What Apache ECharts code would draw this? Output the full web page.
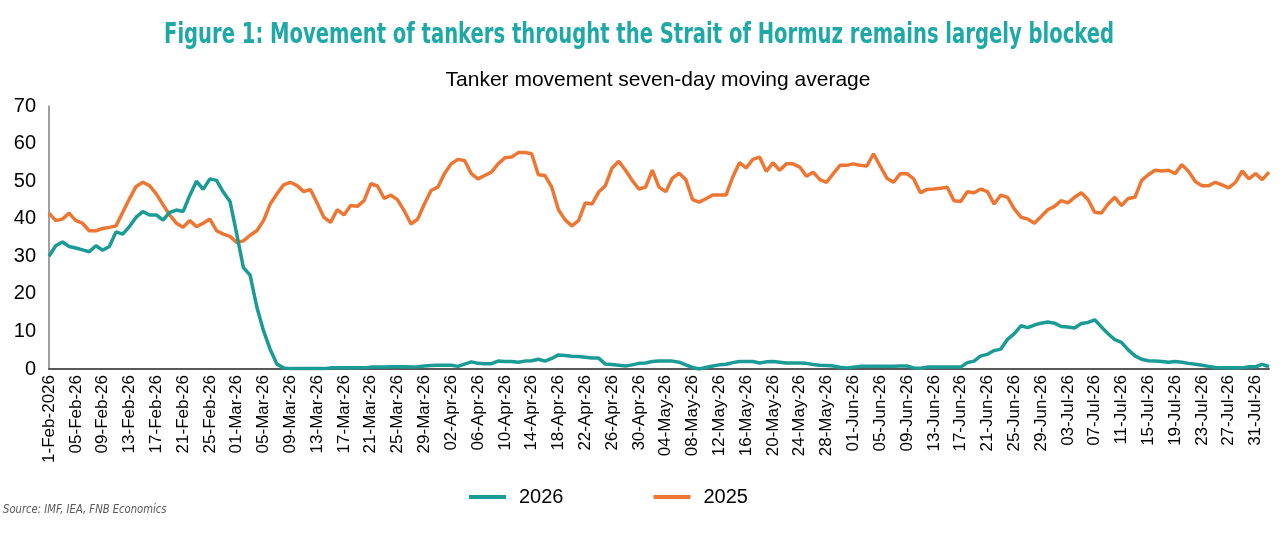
<!DOCTYPE html>
<html>
<head>
<meta charset="utf-8">
<script src="https://cdn.jsdelivr.net/npm/echarts@6/dist/echarts.min.js"></script>
<style>
html,body{margin:0;padding:0;background:#fff;}
#chart{width:1281px;height:544px;}
</style>
</head>
<body>
<div id="chart"></div>
<script>
var categories = [
"1-Feb-2026","02-Feb-26","03-Feb-26","04-Feb-26","05-Feb-26","06-Feb-26","07-Feb-26","08-Feb-26","09-Feb-26","10-Feb-26",
"11-Feb-26","12-Feb-26","13-Feb-26","14-Feb-26","15-Feb-26","16-Feb-26","17-Feb-26","18-Feb-26","19-Feb-26","20-Feb-26",
"21-Feb-26","22-Feb-26","23-Feb-26","24-Feb-26","25-Feb-26","26-Feb-26","27-Feb-26","28-Feb-26",
"01-Mar-26","02-Mar-26","03-Mar-26","04-Mar-26","05-Mar-26","06-Mar-26","07-Mar-26","08-Mar-26","09-Mar-26","10-Mar-26",
"11-Mar-26","12-Mar-26","13-Mar-26","14-Mar-26","15-Mar-26","16-Mar-26","17-Mar-26","18-Mar-26","19-Mar-26","20-Mar-26",
"21-Mar-26","22-Mar-26","23-Mar-26","24-Mar-26","25-Mar-26","26-Mar-26","27-Mar-26","28-Mar-26","29-Mar-26","30-Mar-26","31-Mar-26",
"01-Apr-26","02-Apr-26","03-Apr-26","04-Apr-26","05-Apr-26","06-Apr-26","07-Apr-26","08-Apr-26","09-Apr-26","10-Apr-26",
"11-Apr-26","12-Apr-26","13-Apr-26","14-Apr-26","15-Apr-26","16-Apr-26","17-Apr-26","18-Apr-26","19-Apr-26","20-Apr-26",
"21-Apr-26","22-Apr-26","23-Apr-26","24-Apr-26","25-Apr-26","26-Apr-26","27-Apr-26","28-Apr-26","29-Apr-26","30-Apr-26",
"01-May-26","02-May-26","03-May-26","04-May-26","05-May-26","06-May-26","07-May-26","08-May-26","09-May-26","10-May-26",
"11-May-26","12-May-26","13-May-26","14-May-26","15-May-26","16-May-26","17-May-26","18-May-26","19-May-26","20-May-26",
"21-May-26","22-May-26","23-May-26","24-May-26","25-May-26","26-May-26","27-May-26","28-May-26","29-May-26","30-May-26","31-May-26",
"01-Jun-26","02-Jun-26","03-Jun-26","04-Jun-26","05-Jun-26","06-Jun-26","07-Jun-26","08-Jun-26","09-Jun-26","10-Jun-26",
"11-Jun-26","12-Jun-26","13-Jun-26","14-Jun-26","15-Jun-26","16-Jun-26","17-Jun-26","18-Jun-26","19-Jun-26","20-Jun-26",
"21-Jun-26","22-Jun-26","23-Jun-26","24-Jun-26","25-Jun-26","26-Jun-26","27-Jun-26","28-Jun-26","29-Jun-26","30-Jun-26",
"01-Jul-26","02-Jul-26","03-Jul-26","04-Jul-26","05-Jul-26","06-Jul-26","07-Jul-26","08-Jul-26","09-Jul-26","10-Jul-26",
"11-Jul-26","12-Jul-26","13-Jul-26","14-Jul-26","15-Jul-26","16-Jul-26","17-Jul-26","18-Jul-26","19-Jul-26","20-Jul-26",
"21-Jul-26","22-Jul-26","23-Jul-26","24-Jul-26","25-Jul-26","26-Jul-26","27-Jul-26","28-Jul-26","29-Jul-26","30-Jul-26","31-Jul-26",
"01-Aug-26","02-Aug-26"
];

var series2026 = [
30, 32.8, 33.8, 32.6, 32.2, 31.7, 31.2, 32.8, 31.6, 32.6,
36.5, 35.9, 37.9, 40.4, 41.9, 41.0, 41.0, 39.6, 41.7, 42.3,
41.9, 46.2, 50.0, 47.8, 50.6, 50.2, 47.1, 44.6, 36.0, 27.0,
25.0, 16.5, 10.2, 5.2, 1.3, 0.3, 0.1, 0.1, 0.1, 0.1,
0.1, 0.1, 0.3, 0.3, 0.3, 0.3, 0.3, 0.3, 0.5, 0.5,
0.5, 0.6, 0.6, 0.6, 0.5, 0.6, 0.8, 0.9, 1.0, 1.0,
1.0, 0.7, 1.3, 1.9, 1.5, 1.4, 1.4, 2.1, 2.0, 2.0,
1.8, 2.1, 2.2, 2.6, 2.1, 2.8, 3.75, 3.6, 3.4, 3.3,
3.1, 2.9, 2.9, 1.3, 1.2, 1.0, 0.8, 1.1, 1.5, 1.6,
2.0, 2.1, 2.1, 2.1, 1.8, 1.1, 0.4, 0.0, 0.4, 0.8,
1.1, 1.25, 1.7, 2.0, 2.0, 2.0, 1.6, 1.9, 2.0, 1.8,
1.6, 1.6, 1.6, 1.5, 1.2, 1.0, 0.9, 0.8, 0.45, 0.3,
0.5, 0.7, 0.7, 0.7, 0.7, 0.7, 0.7, 0.8, 0.8, 0.3,
0.2, 0.5, 0.5, 0.5, 0.5, 0.5, 0.5, 1.7, 2.1, 3.5,
3.9, 4.9, 5.3, 7.9, 9.4, 11.5, 11.0, 11.7, 12.2, 12.5,
12.2, 11.3, 11.2, 10.9, 12.1, 12.4, 13.1, 11.2, 9.4, 7.8,
7.1, 5.1, 3.5, 2.6, 2.2, 2.1, 2.0, 1.8, 2.0, 1.8,
1.5, 1.25, 1.0, 0.7, 0.4, 0.3, 0.3, 0.3, 0.3, 0.6,
0.6, 1.25, 0.6
];

var series2025 = [
41.5, 39.5, 39.9, 41.5, 39.5, 38.8, 36.8, 36.8, 37.4, 37.7,
38.1, 41.7, 45.3, 48.6, 49.7, 48.8, 46.6, 43.75, 41.0, 38.8,
37.7, 39.5, 37.9, 38.8, 39.9, 36.8, 35.9, 35.3, 33.7, 34.1,
35.6, 36.8, 39.5, 43.9, 46.6, 49.0, 49.7, 48.8, 47.2, 47.8,
44.2, 40.4, 39.0, 42.4, 41.0, 43.5, 43.3, 44.8, 49.3, 48.7,
45.4, 46.3, 45.0, 42.1, 38.6, 39.9, 43.9, 47.5, 48.4, 52.0,
54.6, 55.8, 55.5, 52.0, 50.6, 51.5, 52.4, 54.6, 56.2, 56.4,
57.6, 57.6, 57.3, 51.7, 51.5, 48.4, 42.4, 39.7, 38.1, 39.5,
44.2, 43.9, 47.1, 48.8, 53.5, 55.3, 52.9, 50.2, 47.9, 48.4,
52.9, 48.4, 47.2, 50.8, 52.1, 50.4, 45.1, 44.4, 45.3, 46.3,
46.3, 46.3, 51.1, 54.9, 53.5, 55.8, 56.4, 52.6, 54.9, 52.9,
54.6, 54.6, 53.75, 51.3, 52.4, 50.4, 49.7, 52.0, 54.2, 54.2,
54.6, 54.2, 54.0, 57.3, 54.0, 50.8, 49.7, 52.0, 52.0, 50.6,
46.9, 47.8, 47.9, 48.1, 48.4, 44.8, 44.6, 47.2, 46.9, 47.9,
47.2, 43.9, 46.3, 45.7, 42.6, 40.4, 39.9, 38.8, 40.6, 42.4,
43.3, 44.8, 44.2, 45.7, 46.9, 45.1, 41.7, 41.5, 43.9, 45.7,
43.5, 45.4, 45.7, 50.2, 51.7, 52.9, 52.7, 52.9, 52.0, 54.4,
52.6, 49.9, 48.8, 48.8, 49.7, 49.0, 48.2, 49.7, 52.7, 50.6,
52.0, 50.4, 52.4
];

var yTicks = [0, 10, 20, 30, 40, 50, 60, 70];
var seriesNames = ["2026", "2025"];
var titleText = "Figure 1: Movement of tankers throught the Strait of Hormuz remains largely blocked";
var subtitleText = "Tanker movement seven-day moving average";
var sourceText = "Source: IMF, IEA, FNB Economics";

var TEAL = "#1a9b96";
var ORANGE = "#ee7633";
var FONT = "'Liberation Sans', Arial, sans-serif";
var NARROW = "'Liberation Sans Narrow', 'DejaVu Sans Condensed', sans-serif";

var chart = echarts.init(document.getElementById("chart"), null, {renderer: "canvas"});
chart.setOption({
  animation: false,
  backgroundColor: "#ffffff",
  graphic: [
    {type: "text", x: 639, y: 36, scaleX: 0.777, scaleY: 1,
     style: {text: titleText, fill: "#1ea8a6", font: "bold 28px " + NARROW,
             textAlign: "center", textVerticalAlign: "middle"}},
    {type: "text", x: 658, y: 80,
     style: {text: subtitleText, fill: "#000", font: "normal 21px " + FONT,
             textAlign: "center", textVerticalAlign: "middle"}},
    {type: "text", x: 3, y: 510, scaleX: 0.93, scaleY: 1,
     style: {text: sourceText, fill: "#595959", font: "italic 12px " + NARROW,
             textAlign: "left", textVerticalAlign: "middle"}}
  ],
  legend: {
    data: seriesNames,
    left: 464, top: 482,
    itemWidth: 37, itemHeight: 4, itemGap: 90,
    icon: "rect",
    textStyle: {fontFamily: FONT, fontSize: 20, color: "#000", padding: [0, 0, 0, 8]}
  },
  grid: {left: 49, right: 12, top: 106, bottom: 175, containLabel: false},
  xAxis: {
    type: "category",
    data: categories,
    boundaryGap: false,
    axisLine: {show: true, lineStyle: {color: "#595959", width: 2}},
    axisTick: {show: false},
    splitLine: {show: false},
    axisLabel: {interval: 3, rotate: 90, fontFamily: FONT, fontSize: 17, color: "#000", margin: 6}
  },
  yAxis: {
    type: "value",
    min: yTicks[0], max: yTicks[yTicks.length - 1], interval: 10,
    axisLine: {show: true, lineStyle: {color: "#7f7f7f", width: 1.5}},
    axisTick: {show: false},
    splitLine: {show: false},
    axisLabel: {fontFamily: FONT, fontSize: 20, color: "#000", margin: 13}
  },
  series: [
    {name: seriesNames[1], type: "line", data: series2025, showSymbol: false, symbol: "none",
     lineStyle: {color: ORANGE, width: 3.5}, itemStyle: {color: ORANGE}},
    {name: seriesNames[0], type: "line", data: series2026, showSymbol: false, symbol: "none",
     lineStyle: {color: TEAL, width: 3.5}, itemStyle: {color: TEAL}}
  ]
});
</script>
</body>
</html>
